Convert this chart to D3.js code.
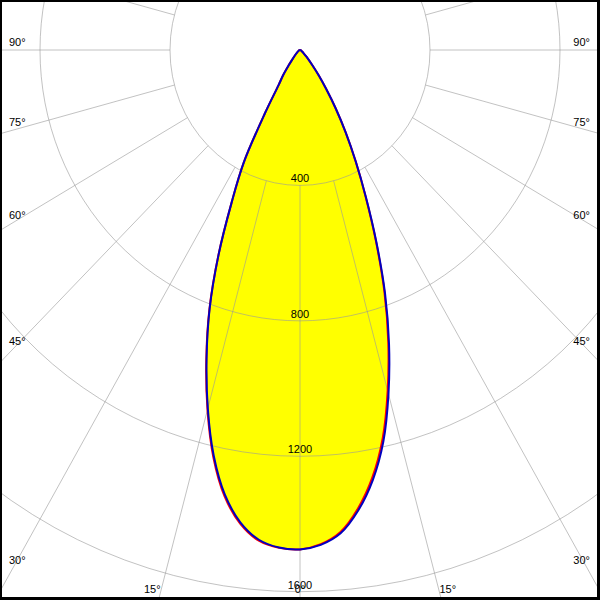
<!DOCTYPE html>
<html><head><meta charset="utf-8">
<script src="https://cdn.jsdelivr.net/npm/d3@7/dist/d3.min.js"></script>
<style>html,body{margin:0;padding:0;background:#fff}svg{display:block}</style>
</head><body>
<svg id="chart" width="600" height="600"></svg>
<script>
// Polar angles (deg from nadir) at which intensities were read
const angles = [0, 2.5, 5, 7.5, 10, 12.5, 15, 17.5, 20, 22.5, 25, 27.5, 30, 32.5, 35, 37.5, 40, 45, 50, 55, 60, 65, 70, 75, 80, 85, 90];
// C90/C270 plane (blue), left and right halves, cd
const blueLeft  = [1475, 1471, 1452, 1407, 1333, 1227, 1096, 956, 813, 655, 499, 375, 215, 122, 90, 58, 38, 20, 12, 8, 5, 4, 3, 2, 1, 1, 0];
const blueRight = [1473, 1463, 1433, 1372, 1290, 1185, 1052, 911, 765, 614, 480, 372, 281, 204, 140, 95, 60, 28, 14, 8, 5, 4, 3, 2, 1, 1, 0];
// C0/C180 plane (red)
const redLeft   = [1475, 1472, 1455, 1411, 1338, 1232, 1100, 959, 815, 656, 499, 375, 215, 122, 90, 58, 38, 20, 12, 8, 5, 4, 3, 2, 1, 1, 0];
const redRight  = [1473, 1461, 1429, 1366, 1282, 1175, 1042, 903, 759, 610, 478, 371, 281, 204, 140, 95, 60, 28, 14, 8, 5, 4, 3, 2, 1, 1, 0];
// grid
const ringValues = [400, 800, 1200, 1600];
const ringLabels = ["400", "800", "1200", "1600"];
const angleTicks = [0, 15, 30, 45, 60, 75, 90];

const W = 600, H = 600, cx = 300, cy = 50;
const svg = d3.select("#chart");
const rX = d3.scaleLinear().domain([0, 1600]).range([0, 520]);
const rY = d3.scaleLinear().domain([0, 1600]).range([0, 541.7]);
function pt(deg, I) {
  const t = deg * Math.PI / 180;
  return [cx + rX(I) * Math.sin(t), cy + rY(I) * Math.cos(t)];
}
function curvePoints(left, right) {
  const pts = [];
  for (let i = angles.length - 1; i >= 0; i--) pts.push(pt(-angles[i], left[i]));
  for (let i = 1; i < angles.length; i++) pts.push(pt(angles[i], right[i]));
  return pts;
}
const line = d3.line().curve(d3.curveCatmullRom.alpha(0.5));
const bluePts = curvePoints(blueLeft, blueRight);
const redPts = curvePoints(redLeft, redRight);

svg.append("rect").attr("width", W).attr("height", H).attr("fill", "#fff");

// fills
[redPts, bluePts].forEach(p => {
  svg.append("path").attr("d", line(p) + "Z").attr("fill", "#ffff00").attr("stroke", "none");
});

// grid
const grid = svg.append("g").attr("fill", "none").attr("stroke", "#999").attr("stroke-opacity", 0.6).attr("stroke-width", 1);
ringValues.forEach(v => {
  grid.append("ellipse").attr("cx", cx).attr("cy", cy).attr("rx", rX(v)).attr("ry", rY(v));
});
d3.range(0, 360, 15).forEach(a => {
  const p0 = pt(a, ringValues[0]), p1 = pt(a, 2600);
  grid.append("line").attr("x1", p0[0]).attr("y1", p0[1]).attr("x2", p1[0]).attr("y2", p1[1]);
});

// curves
svg.append("path").attr("d", line(redPts)).attr("fill", "none").attr("stroke", "#ff0000").attr("stroke-width", 2);
svg.append("path").attr("d", line(bluePts)).attr("fill", "none").attr("stroke", "#0000c0").attr("stroke-width", 2);

const font = "'Liberation Sans', Arial, sans-serif";
// ring labels
ringValues.forEach((v, i) => {
  svg.append("text").attr("x", cx).attr("y", cy + rY(v) - 3)
    .attr("text-anchor", "middle").attr("font-family", font).attr("font-size", 11).attr("fill", "#000")
    .text(ringLabels[i]);
});

// angle labels
const kx = rX(1), ky = rY(1);
angleTicks.forEach(a => {
  [-1, 1].forEach(s => {
    if (a === 0 && s === 1) return;
    const t = a * Math.PI / 180;
    const sx = Math.sin(t) * kx, sy = Math.cos(t) * ky;
    const uSide = sx > 1e-9 ? 300 / sx : Infinity;
    const uBot = sy > 1e-9 ? (H - cy) / sy : Infinity;
    let x, y, anchor;
    if (uSide < uBot) {
      const u = 287 / sx;
      y = cy + sy * u - 4;
      x = s < 0 ? 9 : 590;
      anchor = s < 0 ? "start" : "end";
    } else {
      y = 592.5;
      const u = (592 - cy) / sy;
      x = cx + s * sx * u;
      anchor = a === 0 ? "middle" : (s < 0 ? "end" : "start");
    }
    svg.append("text").attr("x", x).attr("y", y).attr("text-anchor", anchor)
      .attr("font-family", font).attr("font-size", 11).attr("fill", "#000")
      .text(a + "°");
  });
});

// frame
svg.append("rect").attr("x", 0).attr("y", 0).attr("width", 2).attr("height", H).attr("fill", "#000");
svg.append("rect").attr("x", 0).attr("y", 0).attr("width", W).attr("height", 2).attr("fill", "#000");
svg.append("rect").attr("x", W - 3).attr("y", 0).attr("width", 3).attr("height", H).attr("fill", "#000");
svg.append("rect").attr("x", 0).attr("y", H - 3).attr("width", W).attr("height", 3).attr("fill", "#000");
</script>
</body></html>
